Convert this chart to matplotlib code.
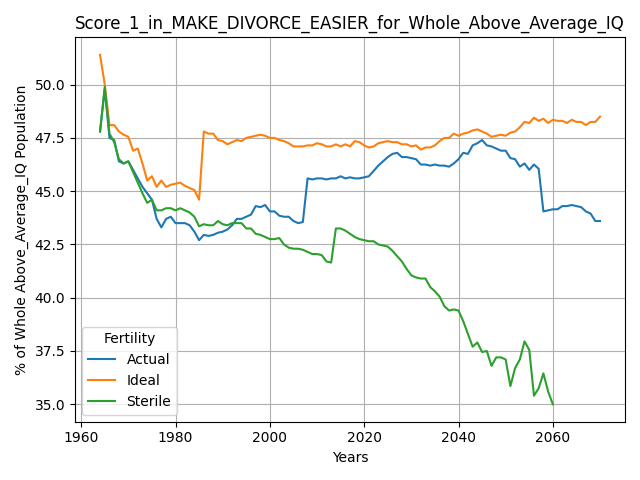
import matplotlib
matplotlib.use("Agg")
import matplotlib.pyplot as plt

years = list(range(1964, 2071))
sterile_years = list(range(1964, 2061))

actual = [47.8, 49.8, 47.5, 47.4, 46.4, 46.3, 46.4, 46.0, 45.6, 45.2,
          44.9, 44.6, 43.7, 43.3, 43.7, 43.8, 43.5, 43.5, 43.5, 43.4,
          43.1, 42.7, 42.95, 42.9, 42.95, 43.05, 43.1, 43.2, 43.4, 43.7,
          43.7, 43.8, 43.9, 44.3, 44.25, 44.35, 44.05, 44.05, 43.85, 43.8,
          43.8, 43.6, 43.5, 43.55, 45.6, 45.55, 45.6, 45.6, 45.55, 45.6,
          45.6, 45.7, 45.6, 45.65, 45.6, 45.6, 45.65, 45.7, 45.95, 46.2,
          46.4, 46.6, 46.75, 46.8, 46.6, 46.6, 46.55, 46.5, 46.25, 46.25,
          46.2, 46.25, 46.2, 46.2, 46.15, 46.3, 46.5, 46.8, 46.75, 47.15,
          47.25, 47.4, 47.15, 47.1, 47.0, 46.9, 46.9, 46.55, 46.5, 46.15,
          46.3, 46.0, 46.25, 46.05, 44.05, 44.1, 44.15, 44.15, 44.3, 44.3,
          44.35, 44.3, 44.25, 44.05, 43.95, 43.6, 43.6]

ideal = [51.4, 50.0, 48.1, 48.1, 47.8, 47.65, 47.55, 46.9, 47.0, 46.3,
         45.5, 45.7, 45.2, 45.5, 45.2, 45.3, 45.35, 45.4, 45.25, 45.15,
         45.05, 44.6, 47.8, 47.7, 47.7, 47.4, 47.35, 47.2, 47.3, 47.4,
         47.35, 47.5, 47.55, 47.6, 47.65, 47.6, 47.5, 47.5, 47.4, 47.35,
         47.25, 47.1, 47.1, 47.1, 47.15, 47.15, 47.25, 47.2, 47.1, 47.1,
         47.2, 47.1, 47.2, 47.1, 47.35, 47.3, 47.15, 47.05, 47.1, 47.25,
         47.3, 47.35, 47.3, 47.3, 47.2, 47.2, 47.1, 47.15, 46.95, 47.05,
         47.05, 47.15, 47.35, 47.5, 47.5, 47.7, 47.6, 47.7, 47.75, 47.85,
         47.9, 47.8, 47.7, 47.55, 47.6, 47.65, 47.6, 47.75, 47.8, 48.0,
         48.25, 48.2, 48.45, 48.3, 48.4, 48.2, 48.35, 48.3, 48.3, 48.2,
         48.35, 48.25, 48.25, 48.1, 48.25, 48.25, 48.5]

sterile = [47.8, 49.9, 47.7, 47.3, 46.5, 46.3, 46.4, 45.9, 45.4, 44.9,
           44.45, 44.6, 44.1, 44.1, 44.2, 44.2, 44.1, 44.2, 44.1, 44.0,
           43.8, 43.35, 43.45, 43.4, 43.4, 43.6, 43.45, 43.4, 43.5, 43.5,
           43.5, 43.25, 43.25, 43.0, 42.95, 42.85, 42.75, 42.75, 42.8, 42.5,
           42.35, 42.3, 42.3, 42.25, 42.15, 42.05, 42.05, 42.0, 41.7, 41.65,
           43.25, 43.25, 43.15, 43.0, 42.85, 42.75, 42.7, 42.65, 42.65, 42.5,
           42.45, 42.4, 42.2, 41.95, 41.7, 41.35, 41.05, 40.95, 40.9, 40.9,
           40.5, 40.3, 40.05, 39.6, 39.4, 39.45, 39.4, 38.9, 38.3, 37.7,
           37.9, 37.45, 37.5, 36.8, 37.2, 37.2, 37.1, 35.85, 36.7, 37.1,
           37.95, 37.55, 35.4, 35.75, 36.45, 35.6, 35.0]

fig, ax = plt.subplots(figsize=(6.4, 4.8), dpi=100)
ax.plot(years, actual, label='Actual')
ax.plot(years, ideal, label='Ideal')
ax.plot(sterile_years, sterile, label='Sterile')
ax.set_title('Score_1_in_MAKE_DIVORCE_EASIER_for_Whole_Above_Average_IQ')
ax.set_xlabel('Years')
ax.set_ylabel('% of Whole Above_Average_IQ Population')
ax.grid(True)
ax.legend(title='Fertility', loc='lower left')
plt.tight_layout()
plt.savefig('out.png')
